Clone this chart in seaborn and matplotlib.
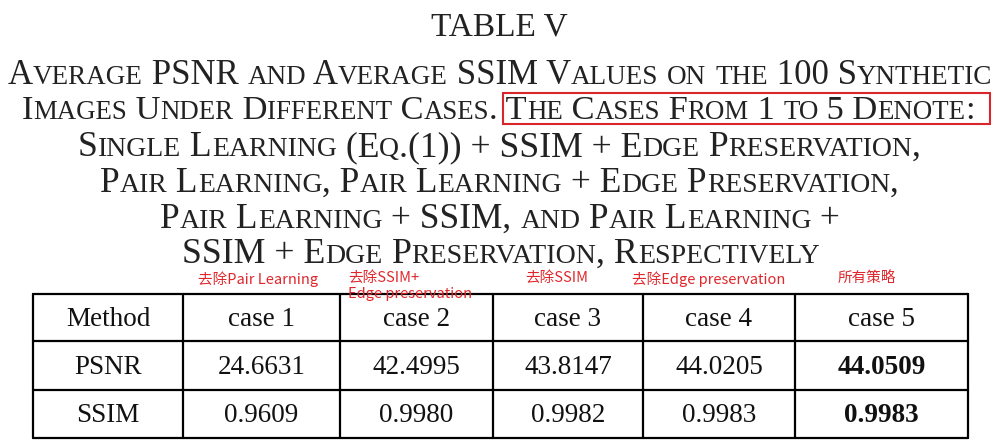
import matplotlib
matplotlib.use("Agg")
import matplotlib.pyplot as plt
import seaborn as sns

sns.set_theme(style="white")
plt.rcParams['font.family'] = ['Liberation Serif', 'DejaVu Serif']

title = "TABLE V"
caption_lines = [
    "Average PSNR and Average SSIM Values on the 100 Synthetic",
    "Images Under Different Cases. The Cases From 1 to 5 Denote:",
    "Single Learning (Eq.(1)) + SSIM + Edge Preservation,",
    "Pair Learning, Pair Learning + Edge Preservation,",
    "Pair Learning + SSIM, and Pair Learning +",
    "SSIM + Edge Preservation, Respectively",
]
header = ["Method", "case 1", "case 2", "case 3", "case 4", "case 5"]
psnr = ["24.6631", "42.4995", "43.8147", "44.0205", "44.0509"]
ssim = ["0.9609", "0.9980", "0.9982", "0.9983", "0.9983"]
notes = ["去除Pair Learning", "去除SSIM+\nEdge preservation", "去除SSIM", "去除Edge preservation", "所有策略"]

W, H = 998, 446
fig = plt.figure(figsize=(W/100, H/100), dpi=100)
ax = fig.add_axes([0, 0, 1, 1])
ax.set_xlim(0, W); ax.set_ylim(H, 0); ax.axis('off')
fig.canvas.draw()
r = fig.canvas.get_renderer()
col = '#222222'

ax.text(499, 27, title, ha='center', va='center', fontsize=24, color=col)

def runs(s):
    out = []
    for ch in s:
        small = ch.islower()
        if out and out[-1][1] == small:
            out[-1][0] += ch
        else:
            out.append([ch, small])
    return out

def smallcaps(line, y, x0, x1, size=19.5):
    def draw(sz, xs):
        arts = []
        x = xs
        for txt, small in runs(line):
            t = ax.text(x, y, txt.upper(), fontsize=sz*(0.78 if small else 1.0),
                        ha='left', va='baseline', color=col)
            bb = t.get_window_extent(r)
            x += bb.width
            arts.append(t)
        return arts, x - xs
    arts, w = draw(size, 0)
    for a in arts: a.remove()
    sz = size * (x1 - x0) / w
    draw(sz, x0)

bounds = [(8, 990), (22, 975), (78, 920), (100, 897), (160, 838), (182, 818)]
ys = [84, 119, 156, 192, 228, 263]
for line, (a, b), y in zip(caption_lines, bounds, ys):
    smallcaps(line, y, a, b)

ax.add_patch(plt.Rectangle((503, 93), 487, 31, fill=False, ec='#d9262b', lw=1.5))

cjk = ['Noto Sans CJK SC', 'DejaVu Sans']
note_x = [198, 348, 525, 632, 838]
for n, x in zip(notes, note_x):
    ax.text(x, 271, n, fontsize=10.5, color='#e0262b', ha='left', va='top',
            family=cjk, linespacing=1.2)

# table
xs = [33, 183, 340, 493, 643, 795, 968]
yr = [294, 341, 390, 438]
for y in yr:
    ax.plot([xs[0], xs[-1]], [y, y], color='black', lw=1.6)
for x in xs:
    ax.plot([x, x], [yr[0], yr[-1]], color='black', lw=1.6)
rows = [header, ["PSNR"] + psnr, ["SSIM"] + ssim]
for i, row in enumerate(rows):
    yc = (yr[i] + yr[i+1]) / 2 + 2
    for j, v in enumerate(row):
        bold = (j == 5 and i > 0)
        ax.text((xs[j] + xs[j+1]) / 2, yc, v, ha='center', va='center', fontsize=19.5,
                color='#111111', fontweight='bold' if bold else 'normal')

fig.savefig("out.png", dpi=100)
